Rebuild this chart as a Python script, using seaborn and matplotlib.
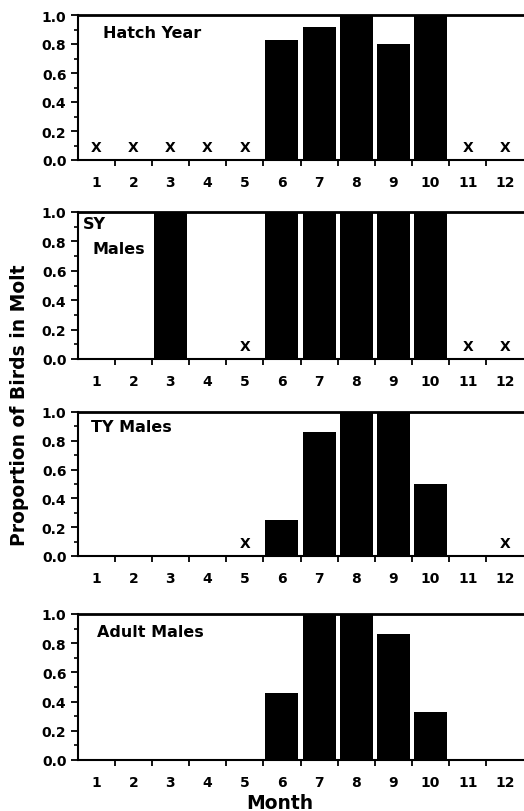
import numpy as np
import pandas as pd
import seaborn as sns
import matplotlib.pyplot as plt
from matplotlib.ticker import FixedLocator, MultipleLocator

sns.set_style('ticks')
plt.rcParams['font.family'] = ['DejaVu Sans']
plt.rcParams['font.weight'] = 'bold'
for k in ['text.color', 'axes.labelcolor', 'xtick.color', 'ytick.color',
          'axes.edgecolor']:
    plt.rcParams[k] = 'black'

months = [1, 2, 3, 4, 5, 6, 7, 8, 9, 10, 11, 12]

# proportion of birds in molt per month
hatch_year = [0, 0, 0, 0, 0, 0.83, 0.92, 1.0, 0.80, 1.0, 0, 0]
sy_males = [0, 0, 1.0, 0, 0, 1.0, 1.0, 1.0, 1.0, 1.0, 0, 0]
ty_males = [0, 0, 0, 0, 0, 0.25, 0.86, 1.0, 1.0, 0.50, 0, 0]
adult_males = [0, 0, 0, 0, 0, 0.46, 1.0, 1.0, 0.86, 0.33, 0, 0]

# months with no birds sampled (marked with an X)
hatch_year_nodata = [1, 2, 3, 4, 5, 11, 12]
sy_males_nodata = [5, 11, 12]
ty_males_nodata = [5, 12]
adult_males_nodata = []

groups = ['Hatch Year', 'SY Males', 'TY Males', 'Adult Males']
values = [hatch_year, sy_males, ty_males, adult_males]
nodata = [hatch_year_nodata, sy_males_nodata, ty_males_nodata, adult_males_nodata]

df = pd.DataFrame({
    'group': np.repeat(groups, len(months)),
    'month': months * len(groups),
    'proportion': np.concatenate(values),
})

# axes boxes in pixels: (bottom y of 0.0, height)
W, H = 524, 812
x0, x1 = 77.5, 523.5
boxes = [(161, 145), (360, 147), (557, 144), (761, 146)]

fig = plt.figure(figsize=(W / 100, H / 100), dpi=100)

for i, g in enumerate(groups):
    yb, hh = boxes[i]
    ax = fig.add_axes([x0 / W, (H - yb) / H, (x1 - x0) / W, hh / H])
    sub = df[df['group'] == g]
    sns.barplot(data=sub, x='month', y='proportion', order=months,
                color='black', width=0.89, saturation=1, ax=ax,
                edgecolor='none', linewidth=0)
    ax.set_xlim(-0.5, 11.5)
    ax.set_ylim(0, 1.0)
    ax.set_xlabel('')
    ax.set_ylabel('')

    for m in nodata[i]:
        ax.text(months.index(m), 0.09, 'X', ha='center', va='center',
                fontsize=10, fontweight='bold')

    # frame
    ax.spines['right'].set_visible(False)
    for s in ['left', 'bottom']:
        ax.spines[s].set_linewidth(1.5)
    ax.spines['top'].set_linewidth(2)

    ax.yaxis.set_major_locator(MultipleLocator(0.2))
    ax.yaxis.set_minor_locator(MultipleLocator(0.1))
    ax.set_yticklabels(['%.1f' % v for v in ax.get_yticks()])
    ax.tick_params(axis='y', which='major', direction='out', length=5,
                   width=1.3, pad=3, labelsize=10)
    ax.tick_params(axis='y', which='minor', direction='out', length=3,
                   width=1.2)

    ax.xaxis.set_minor_locator(FixedLocator(np.arange(0.5, 11, 1.0)))
    ax.tick_params(axis='x', which='major', length=0, pad=10.5, labelsize=10)
    ax.tick_params(axis='x', which='minor', direction='out', length=4,
                   width=1.3)

    if g == 'SY Males':
        ax.text(0.013, 0.92, 'SY', transform=ax.transAxes, fontsize=11.5,
                fontweight='bold', va='center', ha='left')
        ax.text(0.033, 0.75, 'Males', transform=ax.transAxes, fontsize=11.5,
                fontweight='bold', va='center', ha='left')
    else:
        lx = {'Hatch Year': 0.058, 'TY Males': 0.031, 'Adult Males': 0.044}[g]
        ly = {'Hatch Year': 0.876, 'TY Males': 0.90, 'Adult Males': 0.88}[g]
        ax.text(lx, ly, g, transform=ax.transAxes, fontsize=11.5,
                fontweight='bold', va='center', ha='left')

fig.text(20 / W, 1 - 405 / H, 'Proportion of Birds in Molt', rotation=90,
         ha='center', va='center', fontsize=13.5, fontweight='bold')
fig.text(280 / W, 1 - 804 / H, 'Month', ha='center', va='center',
         fontsize=13.5, fontweight='bold')

plt.savefig('out.png', dpi=100)
